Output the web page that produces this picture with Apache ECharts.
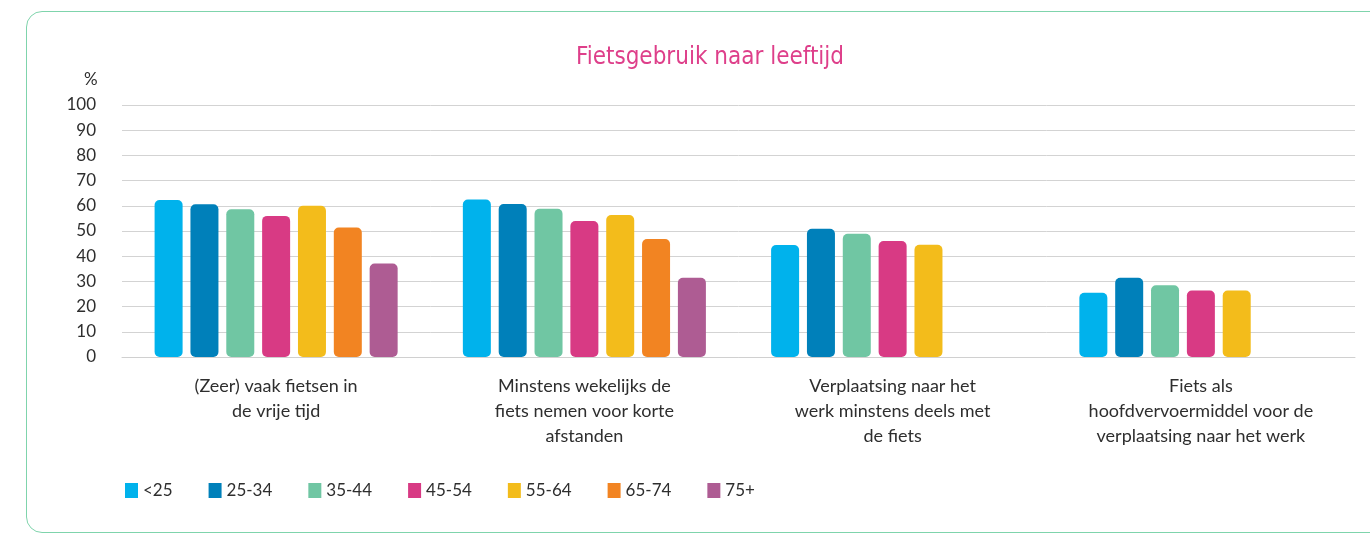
<!DOCTYPE html>
<html>
<head>
<meta charset="utf-8">
<script src="https://cdn.jsdelivr.net/npm/echarts@6/dist/echarts.min.js"></script>
<style>
  html, body { margin: 0; padding: 0; background: #fff; }
  .card {
    position: absolute;
    left: 26px;
    top: 11px;
    width: 1380px;
    height: 522px;
    border: 1.5px solid #7fd4ac;
    border-radius: 16px;
    box-sizing: border-box;
  }
  #chart_bike {
    position: absolute;
    left: 0;
    top: 0;
    width: 1370px;
    height: 533px;
  }
</style>
</head>
<body>
<div class="card"></div>
<div id="chart_bike"></div>
<script>
// categorieën (x-as)
const categories = [
  '(Zeer) vaak fietsen in\nde vrije tijd',
  'Minstens wekelijks de\nfiets nemen voor korte\nafstanden',
  'Verplaatsing naar het\nwerk minstens deels met\nde fiets',
  'Fiets als\nhoofdvervoermiddel voor de\nverplaatsing naar het werk'
];
const ageGroups = ['<25', '25-34', '35-44', '45-54', '55-64', '65-74', '75+'];
const colors = ['#00b2ec', '#0080ba', '#70c6a3', '#d83a84', '#f3bc1b', '#f28422', '#ae5c93'];

// percentages per leeftijdsgroep
const under25 = [62.3, 62.5, 44.4, 25.5];
const age25_34 = [60.6, 60.7, 50.9, 31.4];
const age35_44 = [58.6, 58.8, 48.9, 28.5];
const age45_54 = [56.0, 54.0, 46.0, 26.4];
const age55_64 = [60.0, 56.3, 44.5, 26.4];
const age65_74 = [51.4, 46.8, '-', '-'];
const age75plus = [37.1, 31.4, '-', '-'];
const seriesValues = [under25, age25_34, age35_44, age45_54, age55_64, age65_74, age75plus];

const yTicks = [0, 10, 20, 30, 40, 50, 60, 70, 80, 90, 100];

const textColor = '#2e2e2e';
const fontName = 'Lato, "Open Sans", sans-serif';

const myChart = echarts.init(document.getElementById('chart_bike'));

const option = {
  animation: false,
  title: {
    text: 'Fietsgebruik naar leeftijd',
    left: 705,
    textAlign: 'center',
    top: 41,
    textStyle: {
      color: '#de3f8a',
      fontSize: 24,
      fontWeight: 'normal',
      fontFamily: '"Liberation Sans Narrow", "DejaVu Sans Condensed", sans-serif'
    }
  },
  graphic: [
    {
      type: 'text',
      left: 84,
      top: 71,
      style: { text: '%', fill: textColor, font: '17px ' + fontName }
    }
  ],
  legend: {
    data: ageGroups,
    left: 120,
    top: 477,
    itemWidth: 13,
    itemHeight: 15,
    itemGap: 36,
    icon: 'rect',
    textStyle: { color: textColor, fontSize: 17, fontFamily: fontName }
  },
  grid: {
    left: 122,
    right: 15,
    top: 105,
    bottom: 176,
    containLabel: false
  },
  xAxis: {
    type: 'category',
    data: categories,
    axisLine: { lineStyle: { color: '#d0d0d0' } },
    axisTick: { show: false },
    axisLabel: {
      color: textColor,
      fontSize: 18,
      lineHeight: 25,
      margin: 17,
      interval: 0,
      fontFamily: fontName
    }
  },
  yAxis: {
    type: 'value',
    min: yTicks[0],
    max: yTicks[yTicks.length - 1],
    interval: 10,
    axisLine: { show: false },
    axisTick: { show: false },
    splitLine: { lineStyle: { color: '#d3d3d3', width: 1 } },
    axisLabel: {
      color: textColor,
      fontSize: 17,
      margin: 26,
      fontFamily: fontName
    }
  },
  series: ageGroups.map((name, i) => ({
    name: name,
    type: 'bar',
    data: seriesValues[i],
    barWidth: 28,
    barGap: '28%',
    itemStyle: { color: colors[i], borderRadius: 5 }
  }))
};

myChart.setOption(option);
</script>
</body>
</html>
